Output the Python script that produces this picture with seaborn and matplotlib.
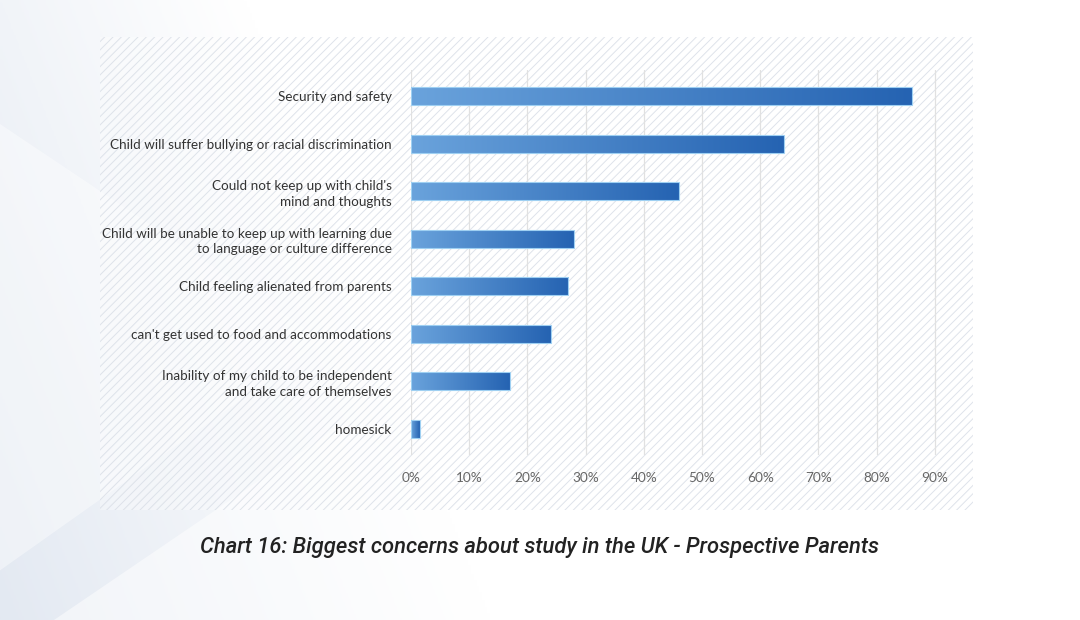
import numpy as np
import pandas as pd
import seaborn as sns
import matplotlib.pyplot as plt
from matplotlib.patches import Rectangle, Polygon
from matplotlib.colors import LinearSegmentedColormap

# Data (% of prospective parents)
concerns = [
    "Security and safety",
    "Child will suffer bullying or racial discrimination",
    "Could not keep up with child's\nmind and thoughts",
    "Child will be unable to keep up with learning due\nto language or culture difference",
    "Child feeling alienated from parents",
    "can't get used to food and accommodations",
    "Inability of my child to be independent\nand take care of themselves",
    "homesick",
]
shares = [86, 64, 46, 28, 27, 24, 17, 1.5]
xticks = [0, 10, 20, 30, 40, 50, 60, 70, 80, 90]
title = "Chart 16: Biggest concerns about study in the UK - Prospective Parents"

df = pd.DataFrame({"concern": concerns, "share": shares})

sns.set_theme(style="white")
plt.rcParams['font.family'] = ['Lato', 'DejaVu Sans']
plt.rcParams['hatch.linewidth'] = 0.7

W, H = 1080, 620
fig = plt.figure(figsize=(10.8, 6.2), dpi=100)

#Background gradient
bg = fig.add_axes([0, 0, 1, 1], zorder=0)
xx, yy = np.meshgrid(np.linspace(0, 1, 400), np.linspace(0, 1, 300))
grad = np.clip(xx * 2.2 + 0.5 * yy, 0, 1)
bg_cmap = LinearSegmentedColormap.from_list("bg", ["#e3e9f2", "#ffffff"])
bg.imshow(grad, cmap=bg_cmap, vmin=0, vmax=1, extent=[0, 1, 0, 1],
          aspect="auto", origin="lower")
bg.add_patch(Polygon([[0, 0.80], [0.30, 0.45], [0.0, 0.08]], closed=True,
                     facecolor="white", alpha=0.4, lw=0))
bg.add_patch(Polygon([[0.05, 0.0], [0.32, 0.32], [0.6, 0.0]], closed=True,
                     facecolor="white", alpha=0.5, lw=0))
bg.set_xlim(0, 1)
bg.set_ylim(0, 1)
bg.axis("off")

#Hatched panel behind the chart (transparent, only hatch lines)
panel = fig.add_axes([100 / W, 1 - 510 / H, (973 - 100) / W, (510 - 37) / H], zorder=1)
panel.add_patch(Rectangle((0, 0), 1, 1, facecolor=(1, 1, 1, 0.35),
                          edgecolor=(0.86, 0.88, 0.91, 0.9), hatch="////", lw=0))
panel.set_xlim(0, 1)
panel.set_ylim(0, 1)
panel.axis("off")

#Main axes
x0, x1 = 411, 964
ax = fig.add_axes([x0 / W, 1 - 455 / H, (x1 - x0) / W, (455 - 70) / H], zorder=2)
ax.patch.set_alpha(0)

sns.barplot(data=df, y="concern", x="share", order=concerns, orient="h",
            width=0.38, color="#3d7cc4", ax=ax)

ax.set_xticks(xticks)
ax.set_xticklabels([f"{t}%" for t in xticks])
ax.set_xlabel("")
ax.set_ylabel("")
for t in xticks:
    ax.axvline(t, color="#e1e1e1", lw=0.9, zorder=0)
for s in ax.spines.values():
    s.set_visible(False)
ax.tick_params(axis="x", length=0, pad=12, labelsize=9.8, labelcolor="#666666")
ax.tick_params(axis="y", length=0, pad=14, labelsize=9.7, labelcolor="#333333")
for lab in ax.get_yticklabels():
    lab.set_horizontalalignment("right")
    lab.set_linespacing(1.35)

#Gradient fill for the bars
bar_cmap = LinearSegmentedColormap.from_list("bars", ["#6aa3dc", "#2563b2"])
gradient = np.linspace(0, 1, 256).reshape(1, -1)
for bar in ax.patches:
    bx, by = bar.get_x(), bar.get_y()
    bw, bh = bar.get_width(), bar.get_height()
    im = ax.imshow(gradient, cmap=bar_cmap, aspect="auto",
                   extent=[bx, bx + bw, by + bh, by], zorder=3)
    im.set_clip_path(bar)
    bar.set_facecolor("none")
    bar.set_edgecolor("#9fd0f2")
    bar.set_linewidth(0.8)
    bar.set_zorder(4)
ax.set_xlim(0, 95)
ax.set_ylim(7.55, -0.55)

fig.text(540 / W, 1 - 547 / H, title, ha="center", va="center",
         fontsize=15.8, style="italic", weight="medium", color="#222222",
         family=["Roboto", "DejaVu Sans"])

fig.savefig("out.png", dpi=100)
